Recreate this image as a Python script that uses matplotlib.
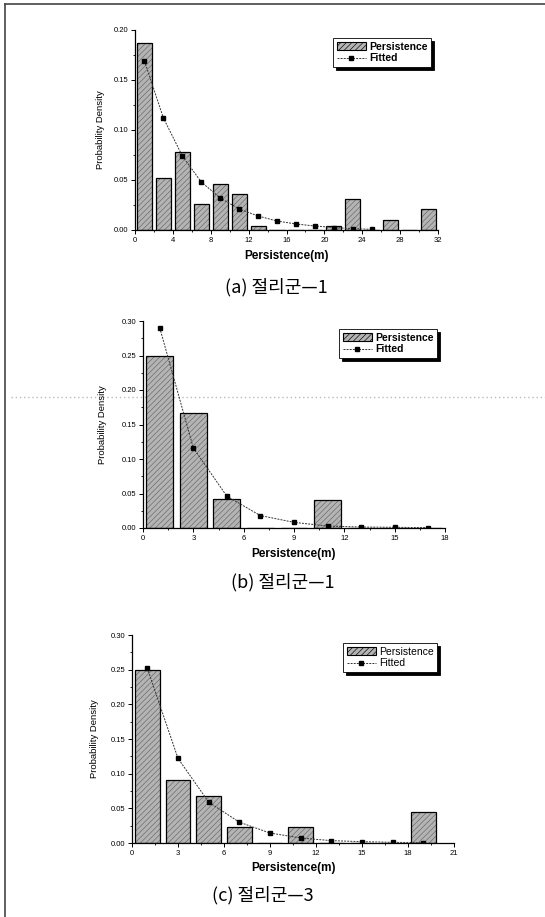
import matplotlib.pyplot as plt
from matplotlib.lines import Line2D
from matplotlib.patches import Patch
from matplotlib.ticker import MultipleLocator

plt.rcParams['font.family'] = ['Liberation Sans', 'DejaVu Sans']
plt.rcParams['hatch.linewidth'] = 0.45

# (a) joint set 1
a_bins = [1, 3, 5, 7, 9, 11, 13, 15, 17, 19, 21, 23, 25, 27, 29, 31]
a_hist = [0.187, 0.052, 0.078, 0.026, 0.046, 0.036, 0.004, 0.0, 0.0, 0.0,
          0.004, 0.031, 0.0, 0.0097, 0.0, 0.021]
a_fx = [1, 3, 5, 7, 9, 11, 13, 15, 17, 19, 21, 23, 25]
a_fy = [0.169, 0.112, 0.074, 0.048, 0.032, 0.021, 0.014, 0.009, 0.006,
        0.004, 0.0025, 0.0013, 0.0007]
a_xticks = [0, 4, 8, 12, 16, 20, 24, 28, 32]
a_yticks = [0.00, 0.05, 0.10, 0.15, 0.20]

# (b) joint set 1
b_bins = [1, 3, 5, 7, 9, 11, 13, 15, 17]
b_hist = [0.25, 0.166, 0.042, 0.0, 0.0, 0.041, 0.0, 0.0, 0.0]
b_fx = [1, 3, 5, 7, 9, 11, 13, 15, 17]
b_fy = [0.29, 0.116, 0.046, 0.018, 0.0082, 0.0028, 0.0014, 0.001, 0.0005]
b_xticks = [0, 3, 6, 9, 12, 15, 18]
b_yticks = [0.00, 0.05, 0.10, 0.15, 0.20, 0.25, 0.30]

# (c) joint set 3
c_bins = [1, 3, 5, 7, 9, 11, 13, 15, 17, 19]
c_hist = [0.25, 0.091, 0.068, 0.0226, 0.0, 0.0226, 0.0, 0.0, 0.0, 0.045]
c_fx = [1, 3, 5, 7, 9, 11, 13, 15, 17, 19]
c_fy = [0.252, 0.122, 0.059, 0.030, 0.0144, 0.0072, 0.0034, 0.0019, 0.001, 0.0005]
c_xticks = [0, 3, 6, 9, 12, 15, 18, 21]
c_yticks = [0.00, 0.05, 0.10, 0.15, 0.20, 0.25, 0.30]

captions = ['(a) 절리군\u20141', '(b) 절리군\u20141', '(c) 절리군\u20143']

W, H = 545, 917
fig = plt.figure(figsize=(W / 100, H / 100), dpi=100)


def px_axes(x0, x1, y0, y1):
    ax = fig.add_axes([x0 / W, 1 - y1 / H, (x1 - x0) / W, (y1 - y0) / H])
    ax.patch.set_alpha(0)
    return ax


def panel(ax, bins, hist, fx, fy, xticks, yticks, leg_xy, bold_leg, ylab_pad, xlab_pad):
    ax.bar(bins, hist, width=1.6, color='#b4b4b4', edgecolor='#666666',
           hatch='//////', linewidth=0, zorder=2)
    ax.bar(bins, hist, width=1.6, fill=False, edgecolor='black',
           linewidth=0.9, zorder=3)
    ax.plot(fx, fy, color='#333333', lw=0.7, ls=(0, (2, 1.2)), zorder=4)
    ax.plot(fx, fy, ls='none', marker='s', ms=3.2, color='black', zorder=5)
    ax.set_xlim(xticks[0], xticks[-1])
    ax.set_ylim(yticks[0], yticks[-1])
    ax.set_xticks(xticks)
    ax.set_yticks(yticks)
    ax.set_yticklabels(['%.2f' % v for v in yticks])
    ax.xaxis.set_minor_locator(MultipleLocator((xticks[1] - xticks[0]) / 2))
    ax.yaxis.set_minor_locator(MultipleLocator(0.025))
    for s in ('top', 'right'):
        ax.spines[s].set_visible(False)
    for s in ('left', 'bottom'):
        ax.spines[s].set_linewidth(0.9)
    ax.tick_params(which='major', direction='out', length=3, width=0.7,
                   labelsize=5.5, pad=2)
    ax.tick_params(which='minor', direction='out', length=1.5, width=0.6)
    ax.set_ylabel('Probability Density', fontsize=6.8, labelpad=ylab_pad)
    ax.set_xlabel('Persistence(m)', fontsize=8.5, fontweight='bold',
                  labelpad=xlab_pad)
    handles = [Patch(facecolor='#b4b4b4', edgecolor='black', hatch='//////',
                     linewidth=0.8),
               Line2D([], [], color='#333333', lw=0.7, ls=(0, (2, 1.2)),
                      marker='s', ms=3.2, mfc='black', mec='black')]
    leg = ax.legend(handles, ['Persistence', 'Fitted'], loc='upper left',
                    bbox_to_anchor=(leg_xy[0] / W, 1 - leg_xy[1] / H),
                    bbox_transform=fig.transFigure, fancybox=False,
                    shadow={'color': 'black', 'alpha': 1}, framealpha=1,
                    edgecolor='black', borderpad=0.35, handlelength=2.8,
                    handletextpad=0.3, labelspacing=0.15, borderaxespad=0,
                    prop={'size': 7.5,
                          'weight': 'bold' if bold_leg else 'normal'})
    leg.get_frame().set_linewidth(0.6)


ax_a = px_axes(135, 438, 30, 230)
panel(ax_a, a_bins, a_hist, a_fx, a_fy, a_xticks, a_yticks, (333, 38), True, 6, 4)
ax_b = px_axes(143, 445, 321, 528)
panel(ax_b, b_bins, b_hist, b_fx, b_fy, b_xticks, b_yticks, (339, 329), True, 10, 4)
ax_c = px_axes(132, 454, 635, 843)
panel(ax_c, c_bins, c_hist, c_fx, c_fy, c_xticks, c_yticks, (343, 643), False, 8, 4)

for (cx, cy), txt in zip([(276, 287), (283, 582), (263, 895)], captions):
    fig.text(cx / W, 1 - cy / H, txt, ha='center', va='center', fontsize=13,
             family=['Noto Sans CJK KR', 'DejaVu Sans'])

# page frame and scan artefact line
fig.add_artist(Line2D([5 / W, 5 / W], [0, 1 - 4 / H], color='#444444', lw=1.2,
                      transform=fig.transFigure))
fig.add_artist(Line2D([5 / W, 1], [1 - 4 / H, 1 - 4 / H], color='#444444', lw=1.2,
                      transform=fig.transFigure))
fig.add_artist(Line2D([0.02, 1], [1 - 397 / H, 1 - 397 / H], color='#bbbbbb',
                      lw=1.0, ls=(0, (1, 2)), transform=fig.transFigure, zorder=-1))

fig.savefig('out.png', dpi=100)
